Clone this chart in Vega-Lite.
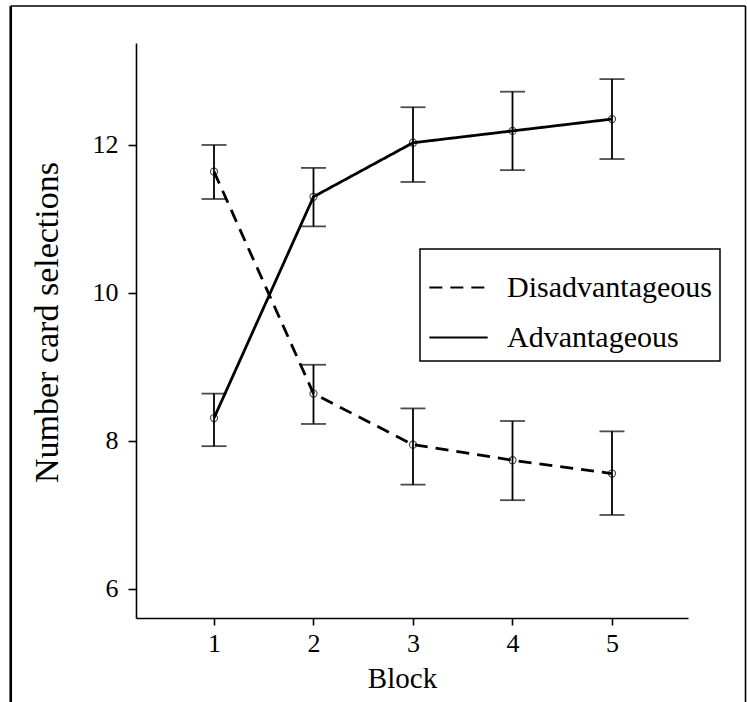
{
  "$schema": "https://vega.github.io/schema/vega-lite/v6.json",
  "autosize": {"type": "none"},
  "width": 552,
  "height": 575,
  "padding": {"left": 136, "top": 43, "right": 59, "bottom": 84},
  "background": "white",
  "config": {
    "view": {"stroke": null},
    "font": "Liberation Serif",
    "axis": {
      "grid": false,
      "domainColor": "black",
      "domainWidth": 1.6,
      "tickColor": "black",
      "tickWidth": 1.6,
      "labelFont": "Liberation Serif",
      "labelColor": "black",
      "labelFontSize": 26,
      "titleFont": "Liberation Serif",
      "titleColor": "black",
      "titleFontWeight": "normal"
    },
    "legend": {
      "labelFont": "Liberation Serif",
      "labelColor": "black",
      "strokeWidth": 1.5
    }
  },
  "data": {
    "values": [
      {"block": 1, "type": "Disadvantageous", "mean": 11.64, "lo": 11.27, "hi": 12.0},
      {"block": 2, "type": "Disadvantageous", "mean": 8.64, "lo": 8.23, "hi": 9.03},
      {"block": 3, "type": "Disadvantageous", "mean": 7.95, "lo": 7.41, "hi": 8.44},
      {"block": 4, "type": "Disadvantageous", "mean": 7.74, "lo": 7.2, "hi": 8.27},
      {"block": 5, "type": "Disadvantageous", "mean": 7.56, "lo": 7.0, "hi": 8.13},
      {"block": 1, "type": "Advantageous", "mean": 8.31, "lo": 7.93, "hi": 8.64},
      {"block": 2, "type": "Advantageous", "mean": 11.3, "lo": 10.9, "hi": 11.69},
      {"block": 3, "type": "Advantageous", "mean": 12.03, "lo": 11.5, "hi": 12.51},
      {"block": 4, "type": "Advantageous", "mean": 12.19, "lo": 11.66, "hi": 12.72},
      {"block": 5, "type": "Advantageous", "mean": 12.35, "lo": 11.81, "hi": 12.89}
    ]
  },
  "layer": [
    {
      "data": {"values": [{"edge": "left"}]},
      "mark": {"type": "rule", "color": "black", "strokeWidth": 2.6, "clip": false},
      "encoding": {
        "x": {"datum": -1.043, "type": "quantitative"},
        "y": {"datum": 13.878, "type": "quantitative"},
        "y2": {"datum": 4.0}
      }
    },
    {
      "data": {"values": [{"edge": "top"}]},
      "mark": {"type": "rule", "color": "black", "strokeWidth": 1.6, "clip": false},
      "encoding": {
        "x": {"datum": -1.043, "type": "quantitative"},
        "x2": {"datum": 6.342},
        "y": {"datum": 13.878, "type": "quantitative"}
      }
    },
    {
      "data": {"values": [{"edge": "right"}]},
      "mark": {"type": "rule", "color": "black", "strokeWidth": 1.6, "clip": false},
      "encoding": {
        "x": {"datum": 6.342, "type": "quantitative"},
        "y": {"datum": 13.878, "type": "quantitative"},
        "y2": {"datum": 4.0}
      }
    },
    {
      "mark": {"type": "rule", "color": "black", "strokeWidth": 1.8},
      "encoding": {
        "x": {
          "field": "block",
          "type": "quantitative",
          "scale": {"domain": [0.216, 5.764], "nice": false, "zero": false},
          "axis": {
            "title": "Block",
            "values": [1, 2, 3, 4, 5],
            "format": "d",
            "tickSize": 7,
            "labelPadding": 5,
            "titleFontSize": 29,
            "titlePadding": 8,
            "titleX": 266
          }
        },
        "y": {
          "field": "lo",
          "type": "quantitative",
          "scale": {"domain": [5.608, 13.378], "nice": false, "zero": false},
          "axis": {
            "title": "Number card selections",
            "values": [6, 8, 10, 12],
            "format": "d",
            "tickSize": 8,
            "labelPadding": 10,
            "titleFontSize": 34,
            "titlePadding": 28,
            "titleY": 279
          }
        },
        "y2": {"field": "hi"}
      }
    },
    {
      "mark": {"type": "tick", "orient": "horizontal", "color": "black", "size": 25, "thickness": 1.8},
      "encoding": {
        "x": {"field": "block", "type": "quantitative"},
        "y": {"field": "lo", "type": "quantitative"}
      }
    },
    {
      "mark": {"type": "tick", "orient": "horizontal", "color": "black", "size": 25, "thickness": 1.8},
      "encoding": {
        "x": {"field": "block", "type": "quantitative"},
        "y": {"field": "hi", "type": "quantitative"}
      }
    },
    {
      "mark": {"type": "line", "color": "black", "strokeWidth": 2.8},
      "encoding": {
        "x": {"field": "block", "type": "quantitative"},
        "y": {"field": "mean", "type": "quantitative"},
        "strokeDash": {
          "field": "type",
          "type": "nominal",
          "scale": {"domain": ["Disadvantageous", "Advantageous"], "range": [[13, 8], [1, 0]]},
          "legend": {
            "title": null,
            "orient": "none",
            "legendX": 284,
            "legendY": 206,
            "strokeColor": "black",
            "fillColor": "white",
            "padding": 8,
            "rowPadding": 4,
            "symbolType": "stroke",
            "symbolSize": 3400,
            "symbolStrokeWidth": 2,
            "symbolStrokeColor": "black",
            "labelFontSize": 30,
            "labelOffset": 18,
            "labelLimit": 400
          }
        }
      }
    },
    {
      "mark": {"type": "point", "shape": "circle", "filled": false, "color": "black", "size": 50, "strokeWidth": 1.2},
      "encoding": {
        "x": {"field": "block", "type": "quantitative"},
        "y": {"field": "mean", "type": "quantitative"}
      }
    }
  ]
}
